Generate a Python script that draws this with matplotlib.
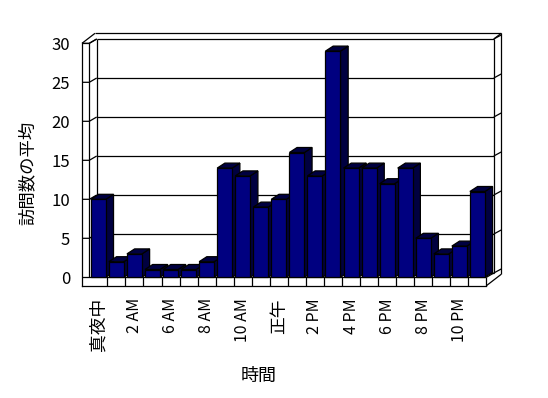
import numpy as np
import matplotlib
matplotlib.use('Agg')
import matplotlib.pyplot as plt
from matplotlib.patches import Polygon

plt.rcParams['font.family'] = ['Noto Sans CJK JP', 'DejaVu Sans']

# data
values = [10, 2, 3, 1, 1, 1, 2, 14, 13, 9, 10, 16, 13, 29, 14, 14, 12, 14, 5, 3, 4, 11]
tick_pos = [0, 2, 4, 6, 8, 10, 12, 14, 16, 18, 20]
tick_labels = ['真夜中', '2 AM', '6 AM', '8 AM', '10 AM', '正午',
               '2 PM', '4 PM', '6 PM', '8 PM', '10 PM']
y_ticks = [0, 5, 10, 15, 20, 25, 30]
x_title = '時間'
y_title = '訪問数の平均'

front_col = '#000080'
shade_col = '#000040'

# pixel scale of the front plane
PX_CAT = 18.05
PX_VAL = 7.8
X0_PX = 89.3     # left end of the floor
Y0_PX = 277.3    # value 0 on the front plane


def dxp(p):
    return p / PX_CAT


def dyp(p):
    return p / PX_VAL


n = len(values)
L = -0.5
R = n - 0.5
DX, DY = dxp(7.4), dyp(4.3)        # depth of the wall
BDX, BDY = dxp(7.7), dyp(5.0)      # depth of a bar
L_out = L - dxp(7.3)
slab = dyp(8.4)
top = 30
top_out = top + dyp(10)
R_out = R + DX + dxp(7.4)

fig = plt.figure(figsize=(5.48, 3.98), dpi=100)
ax = fig.add_axes([0, 0, 1, 1])
ax.set_xlim(-X0_PX / PX_CAT - 0.5, (548 - X0_PX) / PX_CAT - 0.5)
ax.set_ylim((Y0_PX - 398) / PX_VAL, Y0_PX / PX_VAL)
ax.patch.set_visible(False)

lw = 0.9
kw = dict(color='black', lw=lw, solid_capstyle='butt')

# back wall + gridlines
for v in y_ticks:
    ax.plot([L + DX, R + DX], [v + DY, v + DY], **kw)
    # left wall part of the gridline
    if v > 0:
        ax.plot([L_out, L, L + DX], [v, v, v + DY], **kw)
    # right edge of the wall
    ax.plot([R + DX, R_out], [v + DY, v + DY + dyp(4)], **kw)
ax.plot([L + DX, L + DX], [DY, top + DY], **kw)
ax.plot([R + DX, R + DX], [DY, top + DY], **kw)
ax.plot([L, L], [0, top], **kw)
ax.plot([L_out, L], [top, top], **kw)
ax.plot([L, L + DX], [top, top + DY], **kw)
ax.plot([L_out, L + dxp(5.7)], [top, top_out], **kw)
ax.plot([L + dxp(5.7), R_out], [top_out, top_out], **kw)
ax.plot([R_out, R_out], [top_out, dyp(3)], **kw)
ax.plot([R + DX, R_out], [top + DY, top_out], **kw)

# floor slab
ax.plot([L_out, R], [0, 0], **kw)
ax.plot([R, R + DX], [0, DY], **kw)
ax.plot([R, R], [-slab, 0], **kw)
ax.plot([R, R_out], [-slab, dyp(3)], **kw)
for i in range(n - 1):
    ax.plot([i + 0.5, i + 0.5], [-slab, 0], **kw)

# bars
w = 15 / PX_CAT
for i, v in enumerate(values):
    x0, x1 = i - w / 2, i + w / 2
    side = Polygon([(x1, 0), (x1, v), (x1 + BDX, v + BDY), (x1 + BDX, BDY)],
                   closed=True, fc=shade_col, ec='black', lw=lw, zorder=3 + i * 0.01)
    topf = Polygon([(x0, v), (x1, v), (x1 + BDX, v + BDY), (x0 + BDX, v + BDY)],
                   closed=True, fc=shade_col, ec='black', lw=lw, zorder=3 + i * 0.01)
    ax.add_patch(side)
    ax.add_patch(topf)
    ax.bar(i, v, width=w, bottom=0, color=front_col, edgecolor='black',
           linewidth=lw, zorder=3.005 + i * 0.01)

# axes
for s in ['top', 'right']:
    ax.spines[s].set_visible(False)
ax.spines['left'].set_position(('data', L_out))
ax.spines['left'].set_bounds(-slab, top)
ax.spines['bottom'].set_position(('data', -slab))
ax.spines['bottom'].set_bounds(L_out, R)
for s in ['left', 'bottom']:
    ax.spines[s].set_linewidth(lw)

ax.set_yticks(y_ticks)
ax.set_yticklabels([str(t) for t in y_ticks], fontsize=12)
ax.set_xticks(tick_pos)
ax.set_xticklabels(tick_labels, rotation=90, fontsize=11.5)
for lab in ax.get_xticklabels():
    if lab.get_text() in ('真夜中', '正午'):
        lab.set_fontsize(12.8)
ax.tick_params(axis='y', length=0, pad=8.6)
ax.tick_params(axis='x', length=0, pad=8.9)

ax.set_ylabel(y_title, fontsize=12.5, va='center')
ax.yaxis.set_label_coords(28 / 548, 1 - 173 / 398)
ax.set_xlabel(x_title, fontsize=13, va='center')
ax.xaxis.set_label_coords(259 / 548, 1 - 376 / 398)

fig.savefig('out.png', dpi=100)
